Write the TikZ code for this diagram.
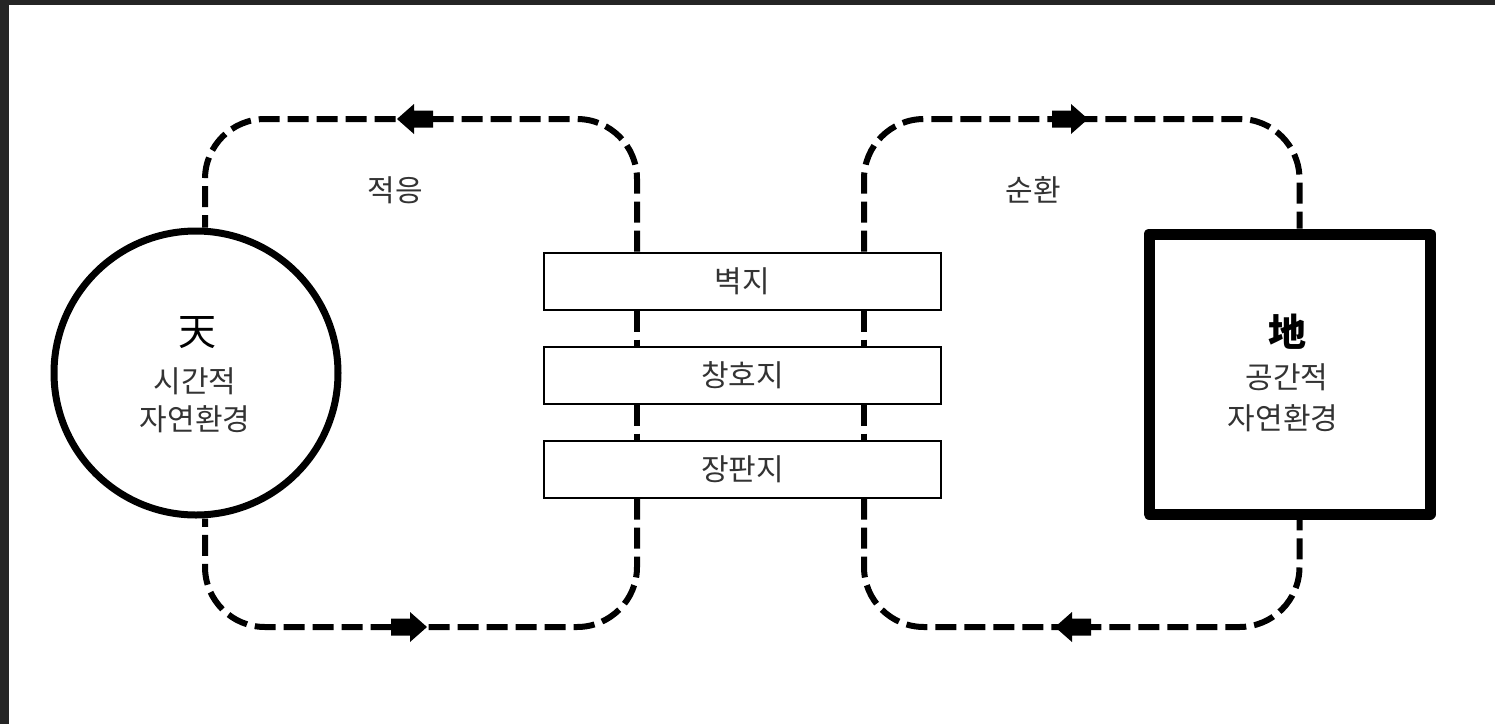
\documentclass[tikz,border=0pt]{standalone}
\usepackage{fontspec}
\setmainfont{Noto Sans CJK KR}
\usetikzlibrary{calc}
\definecolor{frame}{HTML}{252525}
\definecolor{txt}{HTML}{333333}
\tikzset{
  flow/.style={line width=3pt, dash pattern=on 10.5pt off 4pt, rounded corners=30pt},
  link/.style={line width=3pt, dash pattern=on 10.5pt off 4pt},
  layer/.style={draw, fill=white, line width=1pt, minimum width=198.5pt, minimum height=28.5pt, inner sep=0pt, font=\fontsize{15}{18}\selectfont, text=txt},
  han/.style={font=\fontsize{19}{24}\selectfont, text=black, inner sep=0pt},
  kor/.style={font=\fontsize{15}{18}\selectfont, text=txt, inner sep=0pt},
  blockarrow/.pic={\fill (0,0) -- (-17,-15) -- (-17,-8.5) -- (-36,-8.5) -- (-36,8.5) -- (-17,8.5) -- (-17,15) -- cycle;}
}
\begin{document}
\begin{tikzpicture}[x=0.5pt, y=-0.5pt]
\useasboundingbox (0,0) rectangle (1495,724);
\fill[white] (0,0) rectangle (1495,724);
\fill[frame] (0,0) rectangle (1495,5);
\fill[frame] (0,0) rectangle (9,724);

% main shapes
\node[circle, draw, line width=3.5pt, minimum size=142pt, inner sep=0pt] (sky) at (196,373) {};
\node[rectangle, draw, line width=5.5pt, line join=round, minimum width=140.5pt, minimum height=140pt, inner sep=0pt] (earth) at (1289.5,374) {};

% layers
\node[layer] (b1) at (742.5,281) {벽지};
\node[layer] (b2) at (742.5,375) {창호지};
\node[layer] (b3) at (742.5,469) {장판지};

% labels
\node[han] (skyT) at (197,333) {天};
\node[kor] (skyA) at (195,381) {시간적};
\node[kor] (skyB) at (195,419) {자연환경};
\node[han, font=\fontsize{19}{24}\selectfont\bfseries] (earthT) at (1287,332) {地};
\node[kor] (earthA) at (1287,377) {공간적};
\node[kor] (earthB) at (1283,418) {자연환경};
\node[kor] (adapt) at (395,190) {적응};
\node[kor] (cycle) at (1033,190) {순환};

% anchor points on the loops
\coordinate (aTL) at (410,119);
\coordinate (aBL) at (410,627);
\coordinate (aTR) at (1070,119);
\coordinate (aBR) at (1070,627);
\coordinate (skyTop) at ($(sky.north)+(9,0)$);
\coordinate (skyBot) at ($(sky.south)+(9,0)$);
\coordinate (earthTop) at ($(earth.north)+(10,0)$);
\coordinate (earthBot) at ($(earth.south)+(10,0)$);

% left loop
\draw[flow] ($(b1.north west)+(94,0)$) |- (aTL) -| (skyTop);
\draw[flow] ($(b3.south west)+(94,0)$) |- (aBL) -| (skyBot);
\draw[link] ($(b1.south west)+(94,0)$) -- ($(b2.north west)+(94,0)$);
\draw[link] ($(b2.south west)+(94,0)$) -- ($(b3.north west)+(94,0)$);
% right loop
\draw[flow] ($(b1.north west)+(321,0)$) |- (aTR) -| (earthTop);
\draw[flow] ($(b3.south west)+(321,0)$) |- (aBR) -| (earthBot);
\draw[link] ($(b1.south west)+(321,0)$) -- ($(b2.north west)+(321,0)$);
\draw[link] ($(b2.south west)+(321,0)$) -- ($(b3.north west)+(321,0)$);

% arrows
\pic[rotate=180] at (397,119) {blockarrow};
\pic at (427,627) {blockarrow};
\pic at (1088,119) {blockarrow};
\pic[rotate=180] at (1055,627) {blockarrow};
\end{tikzpicture}
\end{document}
